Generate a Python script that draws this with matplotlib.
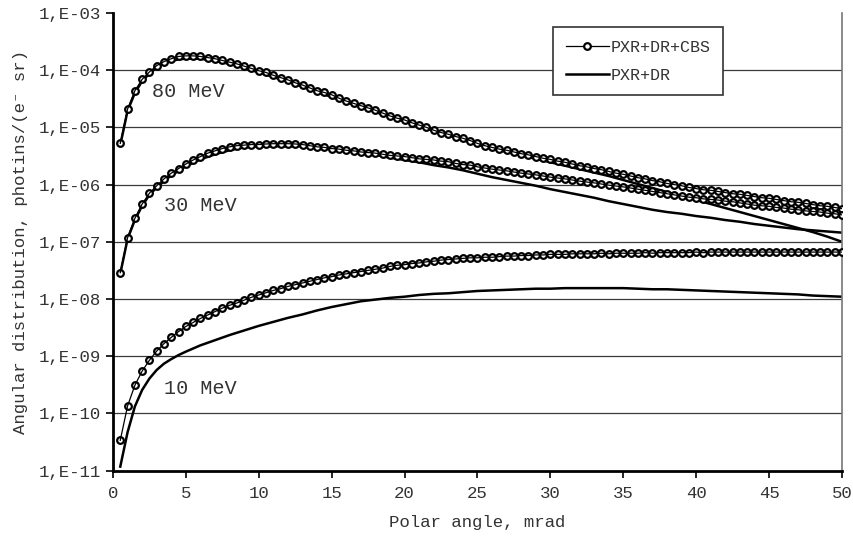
import numpy as np
import matplotlib.pyplot as plt
from matplotlib.ticker import FixedLocator, FuncFormatter
from matplotlib.lines import Line2D

plt.rcParams['font.family'] = ['Liberation Mono', 'DejaVu Sans Mono']

# polar angle grids, mrad
theta_cbs = np.arange(1, 101) * 0.5
theta_line = [0.5, 1, 1.5, 2, 2.5, 3, 3.5, 4, 4.5] + list(range(5, 51))

# log10 of angular distribution, PXR+DR+CBS (every 0.5 mrad)
lg_cbs_80 = [-5.28, -4.68, -4.36, -4.16, -4.03, -3.92, -3.85, -3.80, -3.76, -3.75,
             -3.75, -3.76, -3.78, -3.80, -3.83, -3.86, -3.89, -3.93, -3.97, -4.01,
             -4.04, -4.09, -4.13, -4.17, -4.22, -4.26, -4.31, -4.36, -4.39, -4.43,
             -4.49, -4.54, -4.58, -4.62, -4.66, -4.70, -4.75, -4.80, -4.84, -4.87,
             -4.92, -4.96, -5.00, -5.05, -5.09, -5.12, -5.16, -5.19, -5.23, -5.28,
             -5.32, -5.35, -5.38, -5.40, -5.43, -5.46, -5.48, -5.51, -5.54, -5.56,
             -5.59, -5.61, -5.64, -5.67, -5.69, -5.72, -5.74, -5.77, -5.80, -5.82,
             -5.85, -5.88, -5.90, -5.93, -5.95, -5.98, -6.00, -6.02, -6.05, -6.07,
             -6.09, -6.10, -6.12, -6.14, -6.16, -6.17, -6.19, -6.21, -6.23, -6.24,
             -6.26, -6.28, -6.30, -6.31, -6.33, -6.35, -6.37, -6.38, -6.40, -6.42]
lg_cbs_30 = [-7.54, -6.93, -6.59, -6.34, -6.15, -6.02, -5.90, -5.80, -5.72, -5.64,
             -5.57, -5.51, -5.45, -5.41, -5.37, -5.34, -5.32, -5.31, -5.30, -5.30,
             -5.29, -5.285, -5.285, -5.285, -5.29, -5.30, -5.32, -5.34, -5.35, -5.37,
             -5.38, -5.40, -5.41, -5.43, -5.44, -5.45, -5.47, -5.49, -5.50, -5.51,
             -5.53, -5.55, -5.56, -5.57, -5.59, -5.60, -5.63, -5.65, -5.66, -5.69,
             -5.71, -5.73, -5.745, -5.76, -5.78, -5.80, -5.815, -5.83, -5.85, -5.87,
             -5.885, -5.90, -5.92, -5.94, -5.955, -5.97, -5.99, -6.01, -6.025, -6.04,
             -6.06, -6.08, -6.10, -6.12, -6.14, -6.16, -6.18, -6.20, -6.22, -6.23,
             -6.25, -6.26, -6.27, -6.29, -6.30, -6.32, -6.34, -6.36, -6.37, -6.38,
             -6.40, -6.41, -6.43, -6.44, -6.46, -6.47, -6.48, -6.50, -6.51, -6.53]
lg_cbs_10 = [-10.47, -9.87, -9.51, -9.26, -9.07, -8.91, -8.78, -8.67, -8.57, -8.48,
             -8.41, -8.34, -8.28, -8.22, -8.16, -8.11, -8.07, -8.02, -7.97, -7.93,
             -7.89, -7.85, -7.82, -7.78, -7.75, -7.72, -7.69, -7.66, -7.63, -7.61,
             -7.58, -7.56, -7.54, -7.52, -7.50, -7.48, -7.46, -7.43, -7.41, -7.40,
             -7.38, -7.37, -7.35, -7.34, -7.32, -7.31, -7.30, -7.29, -7.28, -7.28,
             -7.27, -7.27, -7.26, -7.25, -7.25, -7.24, -7.24, -7.23, -7.23, -7.22,
             -7.22, -7.22, -7.21, -7.21, -7.21, -7.21, -7.20, -7.21, -7.20, -7.20,
             -7.20, -7.20, -7.19, -7.20, -7.19, -7.19, -7.19, -7.19, -7.19, -7.18,
             -7.19, -7.18, -7.18, -7.18, -7.18, -7.18, -7.18, -7.18, -7.18, -7.18,
             -7.18, -7.18, -7.18, -7.18, -7.18, -7.18, -7.18, -7.18, -7.18, -7.18]

# log10 of angular distribution, PXR+DR only
lg_dr_80 = [-5.31, -4.71, -4.40, -4.19, -4.06, -3.95, -3.88, -3.84, -3.81, -3.80,
            -3.80, -3.84, -3.89, -3.96, -4.04, -4.12, -4.20, -4.29, -4.38, -4.47,
            -4.56, -4.65, -4.73, -4.82, -4.90, -4.98, -5.06, -5.14, -5.22, -5.30,
            -5.37, -5.43, -5.49, -5.55, -5.61, -5.67, -5.73, -5.79, -5.85, -5.92,
            -5.99, -6.06, -6.13, -6.20, -6.27, -6.34, -6.41, -6.48, -6.55, -6.62,
            -6.69, -6.76, -6.83, -6.91, -7.00]
lg_dr_30 = [-7.56, -6.95, -6.62, -6.37, -6.18, -6.05, -5.94, -5.84, -5.76, -5.68,
            -5.56, -5.47, -5.40, -5.35, -5.33, -5.33, -5.33, -5.33, -5.35, -5.38,
            -5.41, -5.45, -5.48, -5.53, -5.57, -5.61, -5.66, -5.70, -5.75, -5.81,
            -5.87, -5.92, -5.97, -6.02, -6.08, -6.13, -6.18, -6.23, -6.29, -6.34,
            -6.39, -6.44, -6.48, -6.51, -6.55, -6.58, -6.62, -6.65, -6.69, -6.72,
            -6.75, -6.78, -6.80, -6.82, -6.84]
lg_dr_10 = [-10.93, -10.33, -9.88, -9.59, -9.39, -9.24, -9.13, -9.05, -8.98, -8.92,
            -8.81, -8.72, -8.63, -8.55, -8.47, -8.40, -8.33, -8.27, -8.20, -8.14,
            -8.09, -8.04, -8.01, -7.98, -7.96, -7.93, -7.91, -7.90, -7.88, -7.86,
            -7.85, -7.84, -7.83, -7.82, -7.82, -7.81, -7.81, -7.81, -7.81, -7.81,
            -7.82, -7.83, -7.83, -7.84, -7.85, -7.86, -7.87, -7.88, -7.89, -7.90,
            -7.91, -7.92, -7.94, -7.95, -7.96]

energies = ['80 MeV', '30 MeV', '10 MeV']
label_pos = [(5.15, 10**-4.38), (6.0, 10**-6.37), (6.0, 10**-9.56)]

fig = plt.figure(figsize=(8.54, 5.36), dpi=100)
ax = fig.add_axes([0.1323, 0.122, 0.8536, 0.8538])

for y in range(-10, -3):
    ax.axhline(10.0**y, color='#3a3a3a', lw=0.9, zorder=1)

mark_style = dict(ls='none', marker='o', ms=4.8, mfc='white', mec='black',
                  mew=1.6, zorder=3)

for lg_c, lg_d in [(lg_cbs_80, lg_dr_80), (lg_cbs_30, lg_dr_30),
                   (lg_cbs_10, lg_dr_10)]:
    y_c = 10**np.array(lg_c)
    ax.plot(theta_line, 10**np.array(lg_d), color='black', lw=1.8, zorder=2)
    # white-filled circles with the thin connecting line drawn over them
    ax.plot(theta_cbs, y_c, **mark_style)
    ax.plot(theta_cbs, y_c, color='black', lw=0.9, zorder=4)

for txt, (xt, yt) in zip(energies, label_pos):
    ax.text(xt, yt, txt, fontsize=14.5, color='#333333', ha='center', va='center')

ax.set_yscale('log')
ax.set_xlim(0, 50)
ax.set_ylim(1e-11, 1e-3)
ax.xaxis.set_major_locator(FixedLocator(range(0, 51, 5)))
ax.yaxis.set_major_locator(FixedLocator([10.0**k for k in range(-11, -2)]))
ax.yaxis.set_minor_locator(FixedLocator([]))
ax.yaxis.set_major_formatter(
    FuncFormatter(lambda v, p: '1,E-%02d' % round(-np.log10(v))))
ax.tick_params(axis='both', direction='out', length=5, width=1.2,
               labelsize=12.5, colors='black', labelcolor='#333333')
ax.tick_params(axis='x', pad=6)

for s in ['left', 'bottom']:
    ax.spines[s].set_linewidth(2)
ax.spines['top'].set_visible(False)
ax.spines['right'].set_color('#777777')
ax.spines['right'].set_linewidth(1.2)

ax.set_xlabel('Polar angle, mrad', fontsize=12.5, color='#333333', labelpad=10)
ax.set_ylabel('Angular distribution, photins/(e\u207b sr)', fontsize=12.5,
              color='#333333', labelpad=8)

handles = [Line2D([], [], color='black', lw=0.9, marker='o', ms=4.8,
                  mfc='white', mec='black', mew=1.6),
           Line2D([], [], color='black', lw=1.8)]
leg = ax.legend(handles, ['PXR+DR+CBS', 'PXR+DR'], loc='upper left',
                bbox_to_anchor=(0.604, 0.969), fancybox=False, framealpha=1,
                edgecolor='#333333', fontsize=12, handlelength=2.6,
                handletextpad=0.1, borderpad=0.75, labelspacing=0.8,
                borderaxespad=0)
leg.get_frame().set_linewidth(1.2)
for t in leg.get_texts():
    t.set_color('#333333')

fig.savefig('out.png', dpi=100)
